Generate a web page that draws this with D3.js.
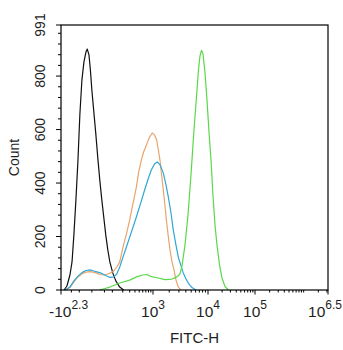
<!DOCTYPE html>
<html>
<head>
<meta charset="utf-8">
<script src="https://cdn.jsdelivr.net/npm/d3@7"></script>
<style>
  body { margin: 0; background: #fff; }
  svg { display: block; }
  text { font-family: "Liberation Sans", Arial, sans-serif; fill: #1e1e1e; }
</style>
</head>
<body>
<svg id="chart" width="343" height="350"></svg>
<script>
// FITC-H histogram overlay: [FITC-H value, event count] per population
const controlSeries = [
  [-166,0],[-137,15],[-111,56],[-95,105],[-82,206],[-69,337],[-57,486],[-47,655],
  [-37,785],[-28,853],[-20,890],[-15,901],[-9,879],[-4.5,823],[0,748],[6,666],
  [13,580],[20,494],[28,411],[37,337],[47,269],[57,206],[69,150],[82,105],
  [103,64],[128,34],[166,11],[212,0]
];
const orangeSeries = [
  [-146,0],[-111,9],[-82,30],[-57,49],[-37,60],[-20,67],[-6,69],[3,67],[13,64],
  [28,58],[47,56],[69,60],[88,64],[111,71],[137,86],[166,105],[204,161],[246,206],
  [300,262],[354,318],[431,385],[486,441],[558,486],[627,516],[694,535],[766,554],
  [846,572],[966,587],[1068,580],[1174,561],[1241,531],[1352,486],[1442,434],
  [1556,374],[1673,314],[1797,251],[1940,194],[2066,150],[2248,105],[2444,75],
  [2658,37],[2926,11],[3274,0]
];
const blueSeries = [
  [-156,0],[-111,11],[-82,34],[-57,52],[-37,65],[-20,73],[-6,75],[6,71],[20,67],
  [37,62],[57,54],[82,47],[111,49],[137,60],[166,86],[200,120],[249,161],[317,209],
  [431,273],[539,325],[660,374],[786,415],[920,449],[1068,471],[1204,479],[1352,468],
  [1556,438],[1745,393],[1923,348],[2155,288],[2374,224],[2658,168],[2926,123],
  [3274,90],[3602,64],[4030,41],[4433,26],[5166,9],[6094,0]
];
const greenSeries = [
  [28,0],[82,11],[166,26],[300,37],[438,49],[596,56],[729,58],[934,50],[1241,45],
  [1673,39],[2248,41],[2771,49],[3140,60],[3413,90],[3865,168],[4379,280],[4956,430],
  [5611,598],[6221,722],[6756,823],[7187,875],[7645,896],[8132,883],[8829,815],
  [9586,711],[10507,591],[11589,486],[12784,352],[14105,243],[15560,168],[17592,94],
  [19882,45],[23036,13],[27348,0]
];

// axis ticks
const xMajorTicks = [-200, 1e3, 1e4, 1e5, Math.pow(10, 6.5)];
const xMajorLabels = [["-10", "2.3"], ["10", "3"], ["10", "4"], ["10", "5"], ["10", "6.5"]];
const xMinorTicks = [-100, -50, 0, 50, 100, 200, 300, 400, 500, 600, 700, 800, 900,
  2e3, 3e3, 4e3, 5e3, 6e3, 7e3, 8e3, 9e3,
  2e4, 3e4, 4e4, 5e4, 6e4, 7e4, 8e4, 9e4,
  2e5, 3e5, 4e5, 5e5, 6e5, 7e5, 8e5, 9e5, 1e6, 2e6, 3e6];
const yMajorTicks = [0, 200, 400, 600, 800, 991];
const yMinorTicks = d3.range(40, 991, 40).filter(v => v % 200 !== 0);
const xTitle = "FITC-H";
const yTitle = "Count";

(function draw() {
  const svg = d3.select("#chart");
  const pLeft = 61, pRight = 328, pTop = 25, pBottom = 290;

  // biexponential-like display: symlog with piecewise decade breakpoints
  const x = d3.scaleSymlog().constant(63.6)
    .domain(xMajorTicks)
    .range([pLeft, 153, 208, 255, pRight]);
  const y = d3.scaleLinear().domain([0, 991]).range([pBottom, pTop]);

  const line = d3.line().x(d => x(d[0])).y(d => y(d[1]));

  const series = [
    { data: controlSeries, color: "#111111" },
    { data: orangeSeries, color: "#e9a46c" },
    { data: blueSeries, color: "#2ea6d6" },
    { data: greenSeries, color: "#5ad84a" }
  ];

  svg.append("g").selectAll("path").data(series).join("path")
    .attr("d", d => line(d.data))
    .attr("fill", "none")
    .attr("stroke", d => d.color)
    .attr("stroke-width", 1.2)
    .attr("stroke-linejoin", "round");

  // frame
  svg.append("rect")
    .attr("x", pLeft).attr("y", pTop)
    .attr("width", pRight - pLeft).attr("height", pBottom - pTop)
    .attr("fill", "none").attr("stroke", "#000").attr("stroke-width", 1.2);

  const axes = svg.append("g").attr("stroke", "#000").attr("stroke-width", 1);

  // x ticks
  axes.selectAll(".xmaj").data(xMajorTicks).join("line")
    .attr("class", "xmaj")
    .attr("x1", d => x(d)).attr("x2", d => x(d))
    .attr("y1", pBottom).attr("y2", pBottom + 4.5);
  axes.selectAll(".xmin").data(xMinorTicks).join("line")
    .attr("class", "xmin")
    .attr("x1", d => x(d)).attr("x2", d => x(d))
    .attr("y1", pBottom).attr("y2", pBottom + 2.5);

  // y ticks
  axes.selectAll(".ymaj").data(yMajorTicks).join("line")
    .attr("class", "ymaj")
    .attr("x1", pLeft - 5).attr("x2", pLeft)
    .attr("y1", d => y(d)).attr("y2", d => y(d));
  axes.selectAll(".ymin").data(yMinorTicks).join("line")
    .attr("class", "ymin")
    .attr("x1", pLeft - 3).attr("x2", pLeft)
    .attr("y1", d => y(d)).attr("y2", d => y(d));

  // x tick labels with exponents
  const last = xMajorTicks.length - 1;
  const xl = svg.append("g").selectAll("text").data(xMajorTicks).join("text")
    .attr("y", 317)
    .attr("font-size", 15.5)
    .attr("x", (d, i) => i === 0 ? x(d) - 12 : (i === last ? 342 : x(d)))
    .attr("text-anchor", (d, i) => i === 0 ? "start" : (i === last ? "end" : "middle"));
  xl.append("tspan").text((d, i) => xMajorLabels[i][0]);
  xl.append("tspan").attr("dy", -8.5).attr("font-size", 12).text((d, i) => xMajorLabels[i][1]);

  // y tick labels, rotated
  svg.append("g").selectAll("text").data(yMajorTicks).join("text")
    .attr("transform", d => `translate(45,${y(d)}) rotate(-90)`)
    .attr("text-anchor", "middle")
    .attr("font-size", 14)
    .text(d => d);

  // axis titles
  svg.append("text")
    .attr("x", (pLeft + pRight) / 2).attr("y", 343)
    .attr("text-anchor", "middle").attr("font-size", 15)
    .text(xTitle);
  svg.append("text")
    .attr("transform", `translate(19,${(pTop + pBottom) / 2}) rotate(-90)`)
    .attr("text-anchor", "middle").attr("font-size", 14)
    .text(yTitle);
})();
</script>
</body>
</html>
